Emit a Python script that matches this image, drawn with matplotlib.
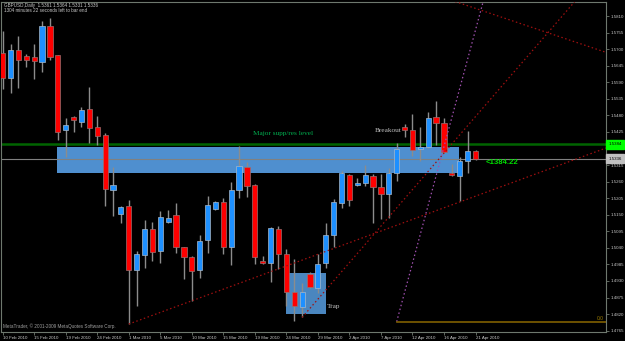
import matplotlib
matplotlib.use('Agg')
import matplotlib.pyplot as plt
import numpy as np
from matplotlib.patches import Rectangle
from matplotlib.transforms import blended_transform_factory

# ---------------- data ----------------
opens = [1.5686, 1.5605, 1.5696, 1.5677, 1.5673, 1.5658, 1.5778, 1.5680, 1.5432, 1.5474,
         1.5458, 1.5500, 1.5441, 1.5415, 1.5233, 1.5153, 1.5180, 1.4967, 1.5017, 1.5103,
         1.5029, 1.5127, 1.5148, 1.5042, 1.5011, 1.4965, 1.5065, 1.5168, 1.5193, 1.5044,
         1.5231, 1.5310, 1.5248, 1.4996, 1.4989, 1.5102, 1.5019, 1.4894, 1.4843, 1.4952,
         1.4908, 1.4989, 1.5083, 1.5190, 1.5282, 1.5249, 1.5255, 1.5278, 1.5243, 1.5220,
         1.5288, 1.5440, 1.5430, 1.5369, 1.5375, 1.5474, 1.5455, 1.5288, 1.5280, 1.5329,
         1.5361]
highs = [1.5761, 1.5717, 1.5744, 1.5683, 1.5717, 1.5793, 1.5804, 1.5682, 1.5470, 1.5477,
         1.5507, 1.5573, 1.5477, 1.5420, 1.5308, 1.5178, 1.5199, 1.5030, 1.5133, 1.5126,
         1.5162, 1.5166, 1.5190, 1.5044, 1.5013, 1.5083, 1.5213, 1.5194, 1.5205, 1.5258,
         1.5379, 1.5324, 1.5252, 1.5014, 1.5108, 1.5113, 1.5035, 1.5002, 1.4922, 1.4960,
         1.5020, 1.5122, 1.5202, 1.5294, 1.5286, 1.5271, 1.5315, 1.5285, 1.5285, 1.5305,
         1.5388, 1.5452, 1.5484, 1.5441, 1.5492, 1.5528, 1.5471, 1.5318, 1.5343, 1.5427,
         1.5364]
lows = [1.5567, 1.5555, 1.5570, 1.5642, 1.5601, 1.5624, 1.5664, 1.5398, 1.5343, 1.5426,
        1.5442, 1.5389, 1.5382, 1.5179, 1.5147, 1.5122, 1.4787, 1.4848, 1.4972, 1.4997,
        1.4989, 1.5122, 1.5024, 1.4936, 1.4865, 1.4941, 1.5024, 1.5166, 1.5019, 1.4982,
        1.5205, 1.5210, 1.4986, 1.4985, 1.4928, 1.4969, 1.4847, 1.4798, 1.4809, 1.4906,
        1.4889, 1.4972, 1.5044, 1.5173, 1.5178, 1.5246, 1.5246, 1.5124, 1.5135, 1.5138,
        1.5263, 1.5409, 1.5346, 1.5329, 1.5373, 1.5382, 1.5354, 1.5280, 1.5196, 1.5288,
        1.5331]
closes = [1.5605, 1.5697, 1.5665, 1.5663, 1.5661, 1.5777, 1.5673, 1.5426, 1.5448, 1.5466,
          1.5498, 1.5439, 1.5410, 1.5236, 1.5249, 1.5176, 1.4967, 1.5019, 1.5103, 1.5027,
          1.5142, 1.5138, 1.5044, 1.5009, 1.4962, 1.5064, 1.5181, 1.5191, 1.5042, 1.5232,
          1.5311, 1.5245, 1.5011, 1.4991, 1.5106, 1.5019, 1.4894, 1.4846, 1.4894, 1.4909,
          1.4985, 1.5082, 1.5191, 1.5288, 1.5198, 1.5255, 1.5282, 1.5242, 1.5220, 1.5288,
          1.5368, 1.5431, 1.5364, 1.5375, 1.5471, 1.5454, 1.5358, 1.5282, 1.5329, 1.5362,
          1.5336]

date_labels = ["10 Feb 2010", "15 Feb 2010", "19 Feb 2010", "24 Feb 2010", "1 Mar 2010",
               "5 Mar 2010", "10 Mar 2010", "15 Mar 2010", "19 Mar 2010", "24 Mar 2010",
               "29 Mar 2010", "2 Apr 2010", "7 Apr 2010", "12 Apr 2010", "16 Apr 2010",
               "21 Apr 2010"]
date_label_step = 4
price_ticks = [1.5810, 1.5755, 1.5700, 1.5645, 1.5590, 1.5535, 1.5480, 1.5425, 1.5370,
               1.5315, 1.5260, 1.5205, 1.5150, 1.5095, 1.5040, 1.4985, 1.4930, 1.4875,
               1.4820, 1.4765]

level_price = 1.5384           # major support / resistance line
zone_x = [6.85, 57.9]          # major zone (bar index)
zone_y = [1.5290, 1.5374]
trap_x = [35.9, 41.0]
trap_y = [1.4819, 1.4957]
trend1 = [(16.0, 1.4787), (70.7, 1.5315)]
trend2 = [(38.0, 1.4809), (62.9, 1.5564)]
trend3 = [(70.7, 1.5741), (76.6, 1.5689)]
fib_pts = [(50.0, 1.4795), (57.94, 1.5564)]

title1 = "GBPUSD,Daily  1.5361 1.5364 1.5331 1.5336"
title2 = "1304 minutes 22 seconds left to bar end"

# ---------------- figure ----------------
W, H = 625, 341
fig = plt.figure(figsize=(W / 100, H / 100), dpi=100, facecolor='black')
ax = fig.add_axes([1.5 / W, 1 - 332 / H, (606 - 1.5) / W, (332 - 1.5) / H])
ax.set_facecolor('black')
XMIN, XMAX = -0.15, 76.56
YMIN, YMAX = 1.47606, 1.58582
ax.set_xlim(XMIN, XMAX)
ax.set_ylim(YMIN, YMAX)

frame_col = '#6e786e'
text_col = '#c8c8c8'
for s in ax.spines.values():
    s.set_color(frame_col)
    s.set_linewidth(0.8)

# zones
ax.add_patch(Rectangle((zone_x[0], zone_y[0]), zone_x[1] - zone_x[0], zone_y[1] - zone_y[0],
                       fc='#4f8fcf', ec='none', zorder=1))
ax.add_patch(Rectangle((trap_x[0], trap_y[0]), trap_x[1] - trap_x[0], trap_y[1] - trap_y[0],
                       fc='#4a86bf', ec='none', zorder=1))

# horizontal lines
ax.axhline(level_price, color='#006400', lw=1.8, zorder=2)
ax.axhline(closes[-1], color='#808080', lw=0.8, zorder=2)

# candles
x = np.arange(len(opens))
o = np.array(opens); c = np.array(closes); h = np.array(highs); l = np.array(lows)
up = c >= o
ax.vlines(x, l, h, color='#8c8c8c', lw=1.0, zorder=3)
bottoms = np.minimum(o, c)
heights = np.maximum(np.abs(c - o), 0.0004)
ax.bar(x[up], heights[up], bottom=bottoms[up], width=0.66, color='#1e90ff',
       edgecolor='#a8b8c8', linewidth=0.5, zorder=4)
ax.bar(x[~up], heights[~up], bottom=bottoms[~up], width=0.66, color='#ff0000',
       edgecolor='#9a7070', linewidth=0.5, zorder=4)

# trend lines
dot = (0, (1.2, 2.0))
def ray(p1, p2, x_from, x_to, **kw):
    slope = (p2[1] - p1[1]) / (p2[0] - p1[0])
    xs = np.array([x_from, x_to])
    ys = p1[1] + slope * (xs - p1[0])
    ax.plot(xs, ys, **kw)

ray(trend1[0], trend1[1], trend1[0][0], XMAX, color='#a01010', lw=0.9, ls=dot, zorder=5)
ray(trend2[0], trend2[1], trend2[0][0], XMAX, color='#a01010', lw=0.9, ls=dot, zorder=5)
ray(trend3[0], trend3[1], 40, XMAX, color='#a01010', lw=0.9, ls=dot, zorder=5)
ray(fib_pts[0], fib_pts[1], fib_pts[0][0], XMAX, color='#a050b0', lw=0.9, ls=dot, zorder=5)
ax.plot([fib_pts[0][0], XMAX], [fib_pts[0][1], fib_pts[0][1]], color='#806000', lw=1.2, zorder=5)
ax.text(XMAX - 0.3, fib_pts[0][1] + 0.0003, '0.0', color='#a08000', fontsize=3.5,
        ha='right', va='bottom', family='Liberation Sans', zorder=6)

# annotations
ax.text(31.8, 1.5420, 'Major supp/res level', color='#00b050', fontsize=5.2,
        family='Liberation Serif', va='center', ha='left', zorder=6)
ax.text(47.2, 1.5431, 'Breakout', color='#c0c0c0', fontsize=5.2,
        family='Liberation Serif', va='center', ha='left', zorder=6)
ax.text(41.2, 1.4845, 'Trap', color='#c0c0c0', fontsize=5.2,
        family='Liberation Serif', va='center', ha='left', zorder=6)
ax.text(61.3, 1.5324, '<1384.22', color='#00e000', fontsize=5.6, weight='bold',
        family='Liberation Sans', va='center', ha='left', zorder=6)

# axes ticks
ax.yaxis.tick_right()
ax.set_yticks(price_ticks)
ax.set_yticklabels([f"{p:.4f}" for p in price_ticks])
ax.tick_params(axis='y', colors=frame_col, labelcolor=text_col, labelsize=3.2,
               length=2, width=0.6, pad=1)
xt = list(range(0, len(opens), date_label_step))
ax.set_xticks(xt)
ax.set_xticklabels(date_labels)
ax.tick_params(axis='x', colors=frame_col, labelcolor=text_col, labelsize=3.2,
               length=2, width=0.6, pad=1)
for t in ax.get_xticklabels() + ax.get_yticklabels():
    t.set_family('Liberation Sans')
for t in ax.get_xticklabels():
    t.set_ha('left')

# price labels on the right axis
tr = blended_transform_factory(ax.transAxes, ax.transData)
ax.text(1.004, level_price, f"{level_price:.4f}", transform=tr, fontsize=3.2, color='black',
        family='Liberation Sans', va='center', ha='left', zorder=10, clip_on=False,
        bbox=dict(fc='#00ff00', ec='#00ff00', pad=0.6, boxstyle='square'))
ax.text(1.004, closes[-1], f"{closes[-1]:.4f}", transform=tr, fontsize=3.2, color='black',
        family='Liberation Sans', va='center', ha='left', zorder=10, clip_on=False,
        bbox=dict(fc='#c0c0c0', ec='#c0c0c0', pad=0.6, boxstyle='square'))

# header and footer texts
fig.text(4 / W, 1 - 5 / H, title1, color=text_col, fontsize=3.3, family='Liberation Sans',
         va='center', ha='left')
fig.text(4 / W, 1 - 11 / H, title2, color=text_col, fontsize=3.3, family='Liberation Sans',
         va='center', ha='left')
fig.text(3 / W, 1 - 326 / H, 'MetaTrader, © 2001-2009 MetaQuotes Software Corp.',
         color='#a0a0a0', fontsize=3.3, family='Liberation Sans', va='center', ha='left')

fig.savefig('out.png', dpi=100, facecolor='black')
